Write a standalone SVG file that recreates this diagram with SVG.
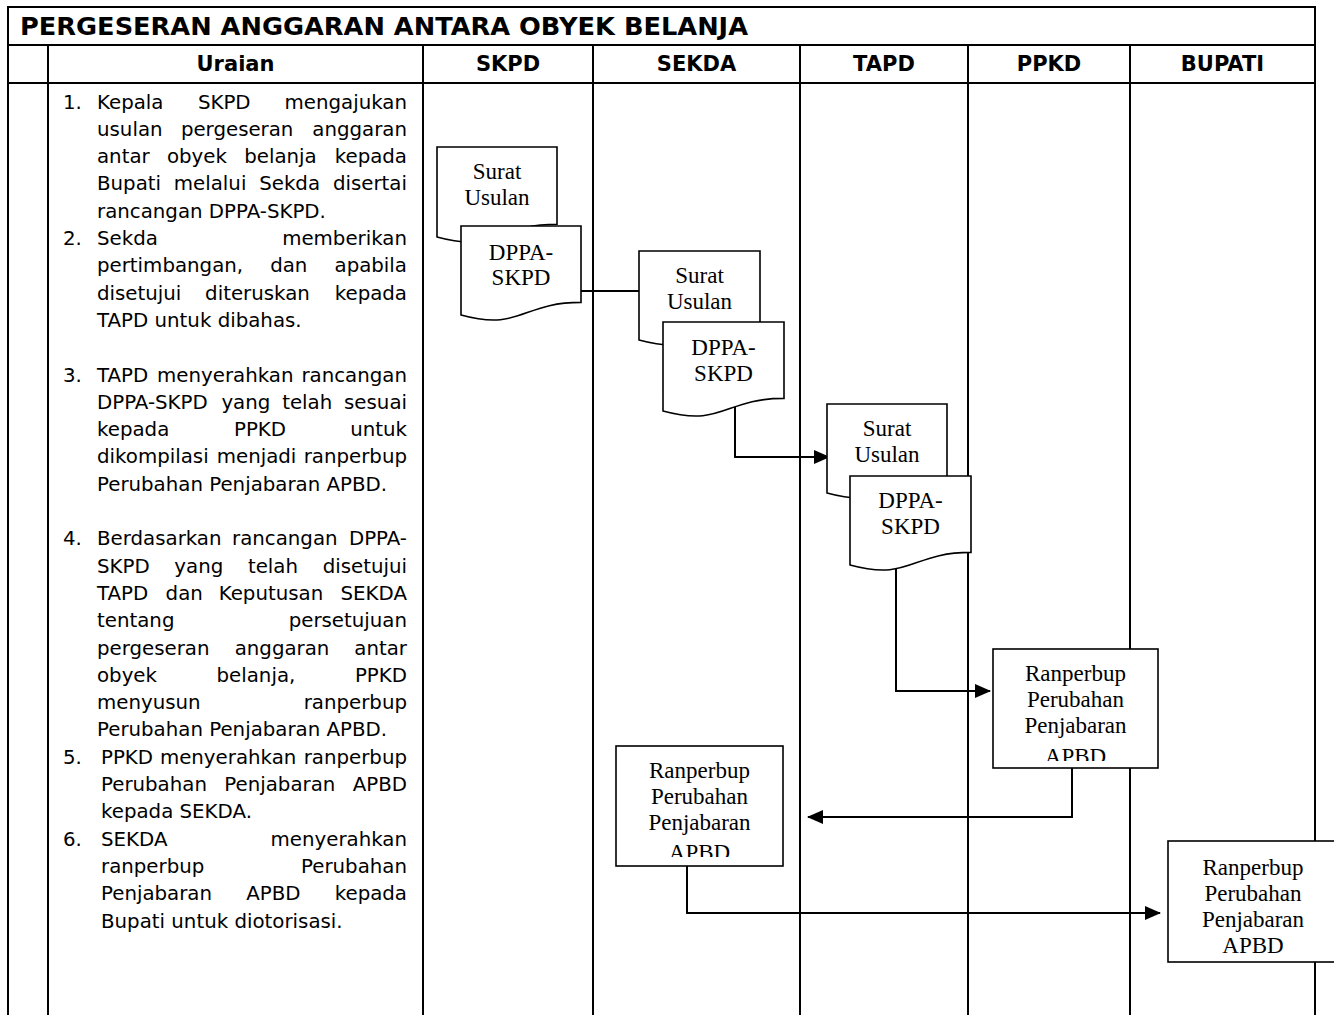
<svg xmlns="http://www.w3.org/2000/svg" width="1334" height="1015" viewBox="0 0 1334 1015">
<style>
.g{stroke:#000;stroke-width:2;fill:none}
.doc{fill:#fff;stroke:#000;stroke-width:1.6}
.box{fill:#fff;stroke:#000;stroke-width:1.6}
.conn{fill:none;stroke:#000;stroke-width:2}
.title{font-family:"DejaVu Sans",Verdana,sans-serif;font-weight:bold;font-size:24px}
.hd{font-family:"DejaVu Sans",Verdana,sans-serif;font-weight:bold;font-size:21px;text-anchor:middle}
.t{font-family:"DejaVu Sans",Verdana,sans-serif;font-size:19.8px}
.e{text-anchor:end}
.s{font-family:"Liberation Serif","Times New Roman",serif;font-size:23px;text-anchor:middle}
</style>
<defs>
<marker id="ah" markerWidth="16" markerHeight="14" refX="15" refY="7" orient="auto" markerUnits="userSpaceOnUse"><path d="M0,0 L16,7 L0,14 Z" fill="#000"/></marker>
<clipPath id="cp1"><rect x="993" y="649" width="165" height="112"/></clipPath>
<clipPath id="cp2"><rect x="616" y="746" width="167" height="111"/></clipPath>
</defs>
<rect width="1334" height="1015" fill="#fff"/>
<g id="table">
<line class="g" x1="8" y1="7" x2="1315" y2="7"/>
<line class="g" x1="8" y1="45" x2="1315" y2="45"/>
<line class="g" x1="8" y1="83" x2="1315" y2="83"/>
<line class="g" x1="8" y1="6" x2="8" y2="1015"/>
<line class="g" x1="1315" y1="6" x2="1315" y2="1015"/>
<line class="g" x1="48" y1="45" x2="48" y2="1015"/>
<line class="g" x1="423" y1="45" x2="423" y2="1015"/>
<line class="g" x1="593" y1="45" x2="593" y2="1015"/>
<line class="g" x1="800" y1="45" x2="800" y2="1015"/>
<line class="g" x1="968" y1="45" x2="968" y2="1015"/>
<line class="g" x1="1130" y1="45" x2="1130" y2="1015"/>
<text class="title" x="20" y="35" textLength="728" lengthAdjust="spacingAndGlyphs">PERGESERAN ANGGARAN ANTARA OBYEK BELANJA</text>
<text class="hd" x="235.5" y="71">Uraian</text>
<text class="hd" x="508" y="71">SKPD</text>
<text class="hd" x="696.5" y="71">SEKDA</text>
<text class="hd" x="884" y="71">TAPD</text>
<text class="hd" x="1049" y="71">PPKD</text>
<text class="hd" x="1222.5" y="71">BUPATI</text>
</g>
<g id="uraian">
<text class="t" y="108.5"><tspan x="63">1.</tspan><tspan x="97">Kepala</tspan><tspan x="197.9">SKPD</tspan></text><text class="t e" x="407" y="108.5">mengajukan</text>
<text class="t" y="135.8"><tspan x="97">usulan</tspan><tspan x="180.9">pergeseran</tspan></text><text class="t e" x="407" y="135.8">anggaran</text>
<text class="t" y="163.1"><tspan x="97">antar</tspan><tspan x="166.9">obyek</tspan><tspan x="244.2">belanja</tspan></text><text class="t e" x="407" y="163.1">kepada</text>
<text class="t" y="190.4"><tspan x="97">Bupati</tspan><tspan x="173.8">melalui</tspan><tspan x="259.2">Sekda</tspan></text><text class="t e" x="407" y="190.4">disertai</text>
<text class="t" x="97" y="217.7">rancangan DPPA-SKPD.</text>
<text class="t" y="245"><tspan x="63">2.</tspan><tspan x="97">Sekda</tspan></text><text class="t e" x="407" y="245">memberikan</text>
<text class="t" y="272.3"><tspan x="97">pertimbangan,</tspan><tspan x="270.2">dan</tspan></text><text class="t e" x="407" y="272.3">apabila</text>
<text class="t" y="299.6"><tspan x="97">disetujui</tspan><tspan x="205.1">diteruskan</tspan></text><text class="t e" x="407" y="299.6">kepada</text>
<text class="t" x="97" y="326.9">TAPD untuk dibahas.</text>
<text class="t" y="381.5"><tspan x="63">3.</tspan><tspan x="97">TAPD</tspan><tspan x="157.1">menyerahkan</tspan></text><text class="t e" x="407" y="381.5">rancangan</text>
<text class="t" y="408.8"><tspan x="97">DPPA-SKPD</tspan><tspan x="221.4">yang</tspan><tspan x="282.2">telah</tspan></text><text class="t e" x="407" y="408.8">sesuai</text>
<text class="t" y="436.1"><tspan x="97">kepada</tspan><tspan x="234">PPKD</tspan></text><text class="t e" x="407" y="436.1">untuk</text>
<text class="t" y="463.4"><tspan x="97">dikompilasi</tspan><tspan x="216.7">menjadi</tspan></text><text class="t e" x="407" y="463.4">ranperbup</text>
<text class="t" x="97" y="490.7">Perubahan Penjabaran APBD.</text>
<text class="t" y="545.3"><tspan x="63">4.</tspan><tspan x="97">Berdasarkan</tspan><tspan x="232">rancangan</tspan></text><text class="t e" x="407" y="545.3">DPPA-</text>
<text class="t" y="572.6"><tspan x="97">SKPD</tspan><tspan x="174.3">yang</tspan><tspan x="247.9">telah</tspan></text><text class="t e" x="407" y="572.6">disetujui</text>
<text class="t" y="599.9"><tspan x="97">TAPD</tspan><tspan x="165.6">dan</tspan><tspan x="218.7">Keputusan</tspan></text><text class="t e" x="407" y="599.9">SEKDA</text>
<text class="t" x="97" y="627.2">tentang</text><text class="t e" x="407" y="627.2">persetujuan</text>
<text class="t" y="654.5"><tspan x="97">pergeseran</tspan><tspan x="234.7">anggaran</tspan></text><text class="t e" x="407" y="654.5">antar</text>
<text class="t" y="681.8"><tspan x="97">obyek</tspan><tspan x="216.5">belanja,</tspan></text><text class="t e" x="407" y="681.8">PPKD</text>
<text class="t" x="97" y="709.1">menyusun</text><text class="t e" x="407" y="709.1">ranperbup</text>
<text class="t" x="97" y="736.4">Perubahan Penjabaran APBD.</text>
<text class="t" y="763.7"><tspan x="63">5.</tspan><tspan x="101">PPKD</tspan><tspan x="159.9">menyerahkan</tspan></text><text class="t e" x="407" y="763.7">ranperbup</text>
<text class="t" y="791"><tspan x="101">Perubahan</tspan><tspan x="224.3">Penjabaran</tspan></text><text class="t e" x="407" y="791">APBD</text>
<text class="t" x="101" y="818.3">kepada SEKDA.</text>
<text class="t" y="845.6"><tspan x="63">6.</tspan><tspan x="101">SEKDA</tspan></text><text class="t e" x="407" y="845.6">menyerahkan</text>
<text class="t" x="101" y="872.9">ranperbup</text><text class="t e" x="407" y="872.9">Perubahan</text>
<text class="t" y="900.2"><tspan x="101">Penjabaran</tspan><tspan x="246.2">APBD</tspan></text><text class="t e" x="407" y="900.2">kepada</text>
<text class="t" x="101" y="927.5">Bupati untuk diotorisasi.</text>
</g>
<g id="connectors">
<path class="conn" d="M581,291 H639"/>
<path class="conn" d="M735,406 V457 H829" marker-end="url(#ah)"/>
<path class="conn" d="M896,569 V691 H990" marker-end="url(#ah)"/>
<path class="conn" d="M1072,768 V817 H808" marker-end="url(#ah)"/>
<path class="conn" d="M687,866 V913 H1160" marker-end="url(#ah)"/>
</g>
<g id="skpd-surat">
<path class="doc" d="M437,147 H557 V224.3 C497,224.3 497,253.4 437,237 Z"/>
<text class="s" x="497" y="179">Surat</text>
<text class="s" x="497" y="205">Usulan</text>
</g>
<g id="skpd-dppa">
<path class="doc" d="M461,226 H581 V302.4 C521,302.4 521,331.4 461,315 Z"/>
<text class="s" x="521" y="260">DPPA-</text>
<text class="s" x="521" y="285">SKPD</text>
</g>
<g id="sekda-surat">
<path class="doc" d="M639,251 H760 V327.4 C699.5,327.4 699.5,356.4 639,340 Z"/>
<text class="s" x="699.5" y="283">Surat</text>
<text class="s" x="699.5" y="309">Usulan</text>
</g>
<g id="sekda-dppa">
<path class="doc" d="M663,322 H784 V398.4 C723.5,398.4 723.5,427.4 663,411 Z"/>
<text class="s" x="723.5" y="355">DPPA-</text>
<text class="s" x="723.5" y="381">SKPD</text>
</g>
<g id="tapd-surat">
<path class="doc" d="M827,404 H947 V480.4 C887,480.4 887,509.4 827,493 Z"/>
<text class="s" x="887" y="436">Surat</text>
<text class="s" x="887" y="462">Usulan</text>
</g>
<g id="tapd-dppa">
<path class="doc" d="M850,476 H971 V552.4 C910.5,552.4 910.5,581.4 850,565 Z"/>
<text class="s" x="910.5" y="508">DPPA-</text>
<text class="s" x="910.5" y="534">SKPD</text>
</g>
<g id="ppkd-ranperbup">
<rect class="box" x="993" y="649" width="165" height="119"/>
<text class="s" x="1075.5" y="681">Ranperbup</text>
<text class="s" x="1075.5" y="707">Perubahan</text>
<text class="s" x="1075.5" y="733">Penjabaran</text>
<text class="s" x="1075.5" y="764" clip-path="url(#cp1)">APBD</text>
</g>
<g id="sekda-ranperbup">
<rect class="box" x="616" y="746" width="167" height="120"/>
<text class="s" x="699.5" y="778">Ranperbup</text>
<text class="s" x="699.5" y="804">Perubahan</text>
<text class="s" x="699.5" y="830">Penjabaran</text>
<text class="s" x="699.5" y="860" clip-path="url(#cp2)">APBD</text>
</g>
<g id="bupati-ranperbup">
<rect class="box" x="1168" y="841" width="172" height="121"/>
<text class="s" x="1253" y="875">Ranperbup</text>
<text class="s" x="1253" y="901">Perubahan</text>
<text class="s" x="1253" y="927">Penjabaran</text>
<text class="s" x="1253" y="953">APBD</text>
</g>
</svg>
